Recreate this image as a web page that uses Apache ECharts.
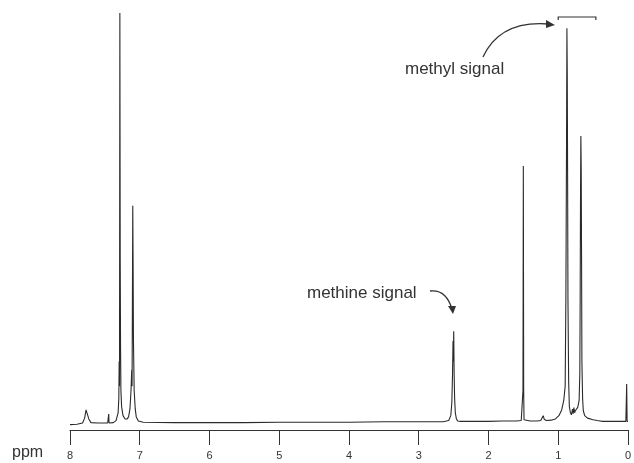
<!DOCTYPE html>
<html>
<head>
<meta charset="utf-8">
<script src="https://cdn.jsdelivr.net/npm/echarts@6/dist/echarts.min.js"></script>
<style>html,body{margin:0;padding:0;background:#fff;}#c{width:634px;height:463px;}</style>
</head>
<body>
<div id="c"></div>
<script>
// Chemical shift (ppm) and relative intensity
var ppm = [
  8.00,7.90,7.82,7.79,7.77,7.75,7.73,7.70,7.60,7.46,7.452,7.445,7.44,7.38,
  7.34,7.31,7.30,7.295,7.29,7.285,7.28,7.275,7.27,7.26,7.24,7.21,7.18,7.16,
  7.14,7.125,7.115,7.11,7.105,7.10,7.095,7.09,7.08,7.065,7.05,7.02,
  6.95,6.5,6.0,5.5,5.0,4.5,4.0,3.5,3.0,2.65,
  2.57,2.54,2.525,2.515,2.508,2.503,2.498,2.492,2.485,2.475,2.46,2.44,2.40,
  2.2,2.0,1.8,1.6,1.53,1.51,1.505,1.50,1.495,1.49,1.47,1.40,
  1.30,1.25,1.23,1.215,1.20,1.17,1.10,1.04,0.99,0.95,0.92,
  0.90,0.89,0.88,0.875,0.87,0.865,0.86,0.85,0.84,0.825,
  0.81,0.795,0.785,0.775,0.765,0.755,0.74,0.72,0.70,
  0.69,0.685,0.68,0.675,0.67,0.665,0.66,0.65,0.64,0.62,0.58,
  0.50,0.44,0.42,0.40,0.36,0.25,0.12,0.03,0.022,0.018,0.012,0.00
];
var intensity = [
  -0.4,-0.3,0.0,1.2,3.2,3.0,1.0,0.1,0.0,0.0,0.0,2.2,0.0,0.1,
  0.6,2.5,6,15,9,100,40,18,8,4,1.8,1.0,1.0,1.5,
  3.5,8,13,9,30,53,38,20,8,3.5,1.5,0.5,
  0.2,0.1,0.1,0.1,0.2,0.2,0.2,0.3,0.3,0.3,
  0.6,1.8,5,12,20,15,22.4,12,6,2.5,1.0,0.5,0.4,
  0.4,0.4,0.5,0.5,0.6,0.7,8,62.7,8,0.8,0.6,0.5,
  0.5,0.6,1.0,1.8,0.9,0.6,0.7,1.0,1.8,3.2,5.5,
  9,30,70,96.3,85,60,30,10,4,2.5,
  2.0,3.4,2.3,3.8,2.5,3.0,3.2,3.8,5.5,
  12,30,55,70,62,40,15,6,3,1.8,1.2,
  0.8,0.6,1.0,0.5,0.4,0.4,0.4,0.4,0.4,9.5,0.4,0.4
];
var tickLabels = ['0','1','2','3','4','5','6','7','8'];

var seriesData = ppm.map(function(p, i){ return [p, intensity[i]]; });

var chart = echarts.init(document.getElementById('c'), null, {renderer:'canvas'});
var option = {
  animation: false,
  backgroundColor: '#ffffff',
  grid: {left: 70, right: 4, top: 13, bottom: 33},
  xAxis: {
    type: 'value', inverse: true, min: 0, max: 8, interval: 1,
    axisLine: {show: true, onZero: false, lineStyle: {color: '#333', width: 1}},
    axisTick: {show: true, length: 15, lineStyle: {color: '#333', width: 1}},
    splitLine: {show: false},
    axisLabel: {
      margin: 20, fontSize: 11, color: '#333', fontFamily: 'Liberation Sans, Arial, sans-serif',
      formatter: function(v){ return tickLabels[Math.round(v)]; },
      showMinLabel: true, showMaxLabel: true
    }
  },
  yAxis: {type: 'value', min: -1.7, max: 100, show: false, splitLine: {show:false}},
  series: [{
    type: 'line', data: seriesData, showSymbol: false, symbol: 'none',
    lineStyle: {color: '#2a2a2a', width: 1.1}, silent: true
  }]
};
chart.setOption(option);

function px(p, v){ return chart.convertToPixel({gridIndex:0}, [p, v]); }

var font = '17px "Liberation Sans", Arial, sans-serif';
var gfx = [];
gfx.push({type:'text', left: 12, top: 445, style:{text:'ppm', font:'16px "Liberation Sans", Arial, sans-serif', fill:'#333'}});
gfx.push({type:'text', left: 307, top: 285, style:{text:'methine signal', font: font, fill:'#333'}});
gfx.push({type:'text', left: 405, top: 61, style:{text:'methyl signal', font: font, fill:'#333'}});
// methine arrow
gfx.push({type:'bezierCurve', shape:{x1:430,y1:291,x2:452,y2:309,cpx1:446,cpy1:289}, style:{stroke:'#333', lineWidth:1.3, fill:null}});
gfx.push({type:'polygon', shape:{points:[[448,306],[456,306],[453,314]]}, style:{fill:'#333'}});
// methyl arrow
gfx.push({type:'bezierCurve', shape:{x1:483,y1:57,x2:549,y2:24,cpx1:500,cpy1:20}, style:{stroke:'#333', lineWidth:1.3, fill:null}});
gfx.push({type:'polygon', shape:{points:[[546,20],[546,28],[555,25]]}, style:{fill:'#333'}});
// bracket over methyl peaks
var b1 = px(1.00, 0), b2 = px(0.46, 0);
gfx.push({type:'polyline', shape:{points:[[b1[0],20],[b1[0],17],[b2[0],17],[b2[0],20]]}, style:{stroke:'#333', lineWidth:1.2, fill:null}});
chart.setOption({graphic: gfx});
</script>
</body>
</html>
